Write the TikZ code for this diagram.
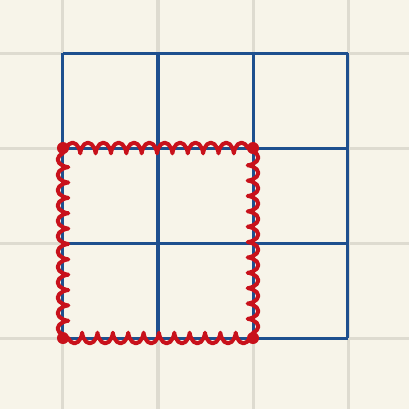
\documentclass[tikz,border=0pt]{standalone}
\usepackage{xcolor}
\usepackage{tikz}
\usetikzlibrary{decorations.pathmorphing}

\definecolor{paper}{HTML}{F7F4E9}
\definecolor{faint}{HTML}{DEDBD0}
\definecolor{gridblue}{HTML}{1E4F8E}
\definecolor{wavered}{HTML}{C8111B}

\begin{document}
\begin{tikzpicture}[
  paperline/.style={faint, line width=0.9pt},
  bluegrid/.style={gridblue, line width=0.9pt},
  wavy/.style={wavered, line width=1.2pt, line join=round, line cap=round,
               decorate, decoration={coil, amplitude=1.6pt, segment length=4.6pt,
                                     aspect=0.45, pre length=1pt, post length=1pt}},
  corner/.style={circle, fill=wavered, inner sep=0pt, minimum size=3.6pt}
]
  % paper
  \fill[paper] (-0.663,-0.747) rectangle (3.642,3.558);
  \useasboundingbox (-0.663,-0.747) rectangle (3.642,3.558);
  \foreach \x in {0,1,2,3}
    \draw[paperline] (\x,-0.747) -- (\x,3.558);
  \foreach \y in {0,1,2,3}
    \draw[paperline] (-0.663,\y) -- (3.642,\y);

  % 3x3 grid
  \draw[bluegrid] (0,0) grid (3,3);

  % corners
  \node[corner] (a) at (0,0) {};
  \node[corner] (b) at (2,0) {};
  \node[corner] (c) at (2,2) {};
  \node[corner] (d) at (0,2) {};

  % wavy square
  \draw[wavy] (d.center) -- (c.center);
  \draw[wavy] (c.center) -- (b.center);
  \draw[wavy] (b.center) -- (a.center);
  \draw[wavy] (a.center) -- (d.center);
\end{tikzpicture}
\end{document}
